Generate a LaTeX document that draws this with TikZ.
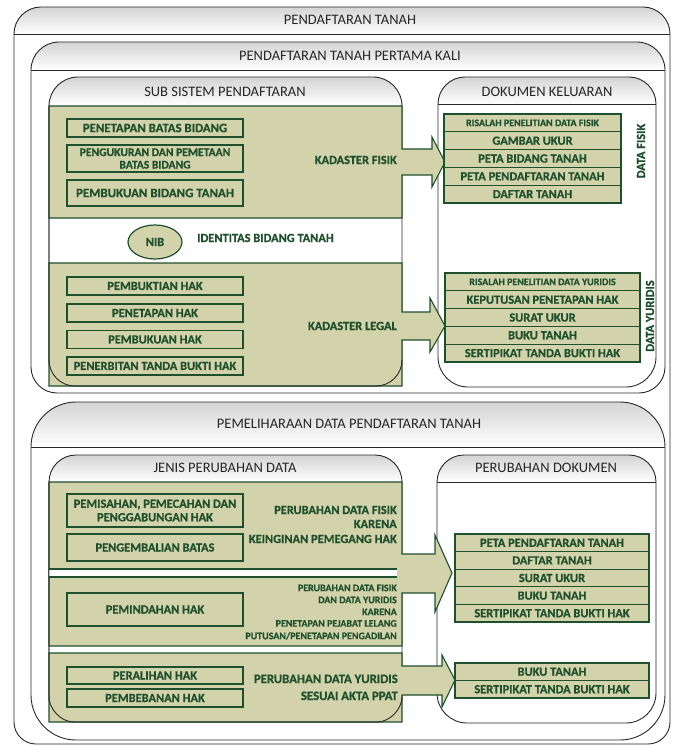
\documentclass[tikz,border=0pt]{standalone}
\usepackage{fontspec}
\setmainfont{Carlito}[BoldFeatures={FakeBold=0.6}]
\usetikzlibrary{shapes.geometric}
\definecolor{gfill}{RGB}{211,211,171}
\definecolor{dkg}{RGB}{30,80,45}
\definecolor{olc}{RGB}{40,40,40}
\definecolor{hdrtop}{RGB}{212,212,212}
\newcommand{\ctrbox}[6]{%
  \pgfmathsetmacro{\cL}{#1}%
  \pgfmathsetmacro{\cT}{#2}%
  \pgfmathsetmacro{\cH}{#3}%
  \pgfmathsetmacro{\cR}{#4}%
  \pgfmathsetmacro{\cB}{#5}%
  \pgfmathsetmacro{\cRb}{#6}%
  \pgfmathsetmacro{\cRt}{\cH-\cT}%
  \pgfmathsetmacro{\cKt}{0.448*\cRt}%
  \pgfmathsetmacro{\cKb}{0.448*\cRb}%
  \fill[white] (\cL,\cH) .. controls (\cL,\cT+\cKt) and (\cL+\cKt,\cT) .. (\cL+\cRt,\cT) -- (\cR-\cRt,\cT) .. controls (\cR-\cKt,\cT) and (\cR,\cT+\cKt) .. (\cR,\cH) -- (\cR,\cB-\cRb) .. controls (\cR,\cB-\cKb) and (\cR-\cKb,\cB) .. (\cR-\cRb,\cB) -- (\cL+\cRb,\cB) .. controls (\cL+\cKb,\cB) and (\cL,\cB-\cKb) .. (\cL,\cB-\cRb) -- cycle;
  \shade[top color=hdrtop, bottom color=white] (\cL,\cH) .. controls (\cL,\cT+\cKt) and (\cL+\cKt,\cT) .. (\cL+\cRt,\cT) -- (\cR-\cRt,\cT) .. controls (\cR-\cKt,\cT) and (\cR,\cT+\cKt) .. (\cR,\cH) -- cycle;
  \draw[ol] (\cL,\cH) .. controls (\cL,\cT+\cKt) and (\cL+\cKt,\cT) .. (\cL+\cRt,\cT) -- (\cR-\cRt,\cT) .. controls (\cR-\cKt,\cT) and (\cR,\cT+\cKt) .. (\cR,\cH) -- (\cR,\cB-\cRb) .. controls (\cR,\cB-\cKb) and (\cR-\cKb,\cB) .. (\cR-\cRb,\cB) -- (\cL+\cRb,\cB) .. controls (\cL+\cKb,\cB) and (\cL,\cB-\cKb) .. (\cL,\cB-\cRb) -- cycle;
  \draw[ol] (\cL,\cH) -- (\cR,\cH);
}
\tikzset{
  ol/.style={draw=olc, line width=0.9pt},
  greg/.style={fill=gfill, draw=dkg, line width=1.1pt, line join=miter},
  htxt/.style={inner sep=0, font=\fontsize{14.5}{16}\selectfont, text=black!85},
  gtxt/.style={inner sep=0, font=\bfseries\fontsize{12.4}{14}\selectfont, text=dkg},
  stxt/.style={inner sep=0, font=\bfseries\fontsize{10}{12}\selectfont, text=dkg},
  lbox/.style={draw=dkg, line width=1.4pt, fill=gfill, minimum width=176, inner sep=0, align=center,
    font=\bfseries\fontsize{12.4}{13.5}\selectfont, text=dkg},
  drow/.style={draw=dkg, line width=1.1pt, fill=gfill, inner sep=0,
    font=\bfseries\fontsize{12.4}{13}\selectfont, text=dkg},
}
\begin{document}
\begin{tikzpicture}[x=1pt,y=-1pt]
\useasboundingbox (0,0) rectangle (672,746);
% ---------- containers ----------
\ctrbox{14}{7}{34}{670}{744}{22}
\node[htxt] (hO) at (350,20) {PENDAFTARAN TANAH};
\ctrbox{31}{42}{70}{665}{393}{26}
\node[htxt] (hP) at (350,56) {PENDAFTARAN TANAH PERTAMA KALI};
\ctrbox{49}{77}{106}{402}{386}{26}
\node[htxt] (hS) at (225,92) {SUB SISTEM PENDAFTARAN};
\ctrbox{438}{77}{104}{656}{387}{30}
\node[htxt] (hD) at (547,92) {DOKUMEN KELUARAN};
% ---------- green regions (upper) ----------
\path[greg] (49,106) -- (402,106) -- (402,149) -- (432,149) -- (432,137) -- (445,162) -- (432,187) -- (432,175) -- (402,175) -- (402,218) -- (49,218) -- cycle;
\path[greg] (49,263) -- (402,263) -- (402,312) -- (430,312) -- (430,298) -- (445,326) -- (430,352) -- (430,340) -- (402,340) -- (402,386) -- (49,386) -- cycle;
\draw[ol] (49,106) -- (49,360) .. controls (49,374.4) and (60.6,386) .. (75,386) -- (376,386) .. controls (390.4,386) and (402,374.4) .. (402,360);
% left boxes upper
\node[lbox, minimum height=18, font=\bfseries\fontsize{12.8}{13.5}\selectfont] (b1) at (155,128) {PENETAPAN BATAS BIDANG};
\node[lbox, minimum height=27, font=\bfseries\fontsize{11.6}{12.5}\selectfont] (b2) at (155,158.5) {PENGUKURAN DAN PEMETAAN\\BATAS BIDANG};
\node[lbox, minimum height=26, font=\bfseries\fontsize{12.9}{14}\selectfont] (b3) at (155,193) {PEMBUKUAN BIDANG TANAH};
\node[gtxt, anchor=east] (kf) at (397,160) {KADASTER FISIK};
\node[ellipse, draw=dkg, line width=1.2pt, fill=gfill, minimum width=54, minimum height=34, inner sep=0, font=\bfseries\fontsize{12.4}{14}\selectfont, text=dkg] (nib) at (155,242) {NIB};
\node[gtxt, anchor=west] (idb) at (197,238) {IDENTITAS BIDANG TANAH};
\node[lbox, minimum height=18] (b4) at (155,286) {PEMBUKTIAN HAK};
\node[lbox, minimum height=18] (b5) at (155,313) {PENETAPAN HAK};
\node[lbox, minimum height=18] (b6) at (155,339.5) {PEMBUKUAN HAK};
\node[lbox, minimum height=18] (b7) at (155,366) {PENERBITAN TANDA BUKTI HAK};
\node[gtxt, anchor=east] (kl) at (397,326) {KADASTER LEGAL};
% document rows upper
\node[drow, minimum width=177, minimum height=17.8, font=\bfseries\fontsize{10}{12}\selectfont] (f1) at (532.5,122.9) {RISALAH PENELITIAN DATA FISIK};
\node[drow, minimum width=177, minimum height=17.8] (f2) at (532.5,140.7) {GAMBAR UKUR};
\node[drow, minimum width=177, minimum height=17.8] (f3) at (532.5,158.5) {PETA BIDANG TANAH};
\node[drow, minimum width=177, minimum height=17.8] (f4) at (532.5,176.3) {PETA PENDAFTARAN TANAH};
\node[drow, minimum width=177, minimum height=17.8] (f5) at (532.5,194.1) {DAFTAR TANAH};
\node[gtxt, rotate=90] (dfs) at (641,151) {DATA FISIK};
\node[drow, minimum width=195, minimum height=17.8, font=\bfseries\fontsize{10}{12}\selectfont] (y1) at (542.5,281.9) {RISALAH PENELITIAN DATA YURIDIS};
\node[drow, minimum width=195, minimum height=17.8] (y2) at (542.5,299.7) {KEPUTUSAN PENETAPAN HAK};
\node[drow, minimum width=195, minimum height=17.8] (y3) at (542.5,317.5) {SURAT UKUR};
\node[drow, minimum width=195, minimum height=17.8] (y4) at (542.5,335.3) {BUKU TANAH};
\node[drow, minimum width=195, minimum height=17.8] (y5) at (542.5,353.1) {SERTIPIKAT TANDA BUKTI HAK};
\node[gtxt, rotate=90] (dyr) at (650,316) {DATA YURIDIS};
% ---------- lower section ----------
\ctrbox{31}{402}{447}{665}{740}{45}
\node[htxt] (hM) at (349,424) {PEMELIHARAAN DATA PENDAFTARAN TANAH};
\ctrbox{49}{455}{482}{402}{722}{25}
\node[htxt] (hJ) at (225,468) {JENIS PERUBAHAN DATA};
\ctrbox{437}{455}{482}{656}{723}{30}
\node[htxt] (hU) at (546,468) {PERUBAHAN DOKUMEN};
\path[greg] (49,482) -- (402,482) -- (402,554) -- (435,554) -- (435,535) -- (452,573) -- (435,612) -- (435,593) -- (402,593) -- (402,646) -- (49,646) -- cycle;
\fill[white] (49,569) rectangle (397,577);
\draw[dkg, line width=1.1pt] (49,569) -- (397,569) (49,577) -- (397,577);
\path[greg] (49,653) -- (402,653) -- (402,666) -- (442,666) -- (442,655) -- (455,680) -- (442,707) -- (442,695) -- (402,695) -- (402,722) -- (49,722) -- cycle;
\draw[ol] (49,482) -- (49,697) .. controls (49,708.2) and (60.2,722) .. (74,722) -- (377,722) .. controls (390.8,722) and (402,708.2) .. (402,697);
\node[lbox, minimum height=33] (c1) at (155,510.5) {PEMISAHAN, PEMECAHAN DAN\\PENGGABUNGAN HAK};
\node[lbox, minimum height=27] (c2) at (155,547.5) {PENGEMBALIAN BATAS};
\node[lbox, minimum height=33] (c3) at (155,609.5) {PEMINDAHAN HAK};
\node[lbox, minimum height=17] (c4) at (155,675.5) {PERALIHAN HAK};
\node[lbox, minimum height=18] (c5) at (155,698) {PEMBEBANAN HAK};
\node[gtxt, anchor=base east] (t1) at (397,514) {PERUBAHAN DATA FISIK};
\node[gtxt, anchor=base east] (t2) at (397,528) {KARENA};
\node[gtxt, anchor=base east] (t3) at (397,543) {KEINGINAN PEMEGANG HAK};
\node[stxt, anchor=base east] (s1) at (397,591.2) {PERUBAHAN DATA FISIK};
\node[stxt, anchor=base east] (s2) at (397,603.2) {DAN DATA YURIDIS};
\node[stxt, anchor=base east] (s3) at (397,615.2) {KARENA};
\node[stxt, anchor=base east] (s4) at (397,626.7) {PENETAPAN PEJABAT LELANG};
\node[stxt, anchor=base east] (s5) at (397,639.2) {PUTUSAN/PENETAPAN PENGADILAN};
\node[gtxt, anchor=base east, font=\bfseries\fontsize{12.8}{14}\selectfont] (u1) at (398,683) {PERUBAHAN DATA YURIDIS};
\node[gtxt, anchor=base east, font=\bfseries\fontsize{12.8}{14}\selectfont] (u2) at (398,700) {SESUAI AKTA PPAT};
\node[drow, minimum width=194, minimum height=17.6] (p1) at (552,542.8) {PETA PENDAFTARAN TANAH};
\node[drow, minimum width=194, minimum height=17.6] (p2) at (552,560.4) {DAFTAR TANAH};
\node[drow, minimum width=194, minimum height=17.6] (p3) at (552,578) {SURAT UKUR};
\node[drow, minimum width=194, minimum height=17.6] (p4) at (552,595.6) {BUKU TANAH};
\node[drow, minimum width=194, minimum height=17.6] (p5) at (552,613.2) {SERTIPIKAT TANDA BUKTI HAK};
\node[drow, minimum width=194, minimum height=17.5] (q1) at (552,671.75) {BUKU TANAH};
\node[drow, minimum width=194, minimum height=17.5] (q2) at (552,689.25) {SERTIPIKAT TANDA BUKTI HAK};
\end{tikzpicture}
\end{document}
